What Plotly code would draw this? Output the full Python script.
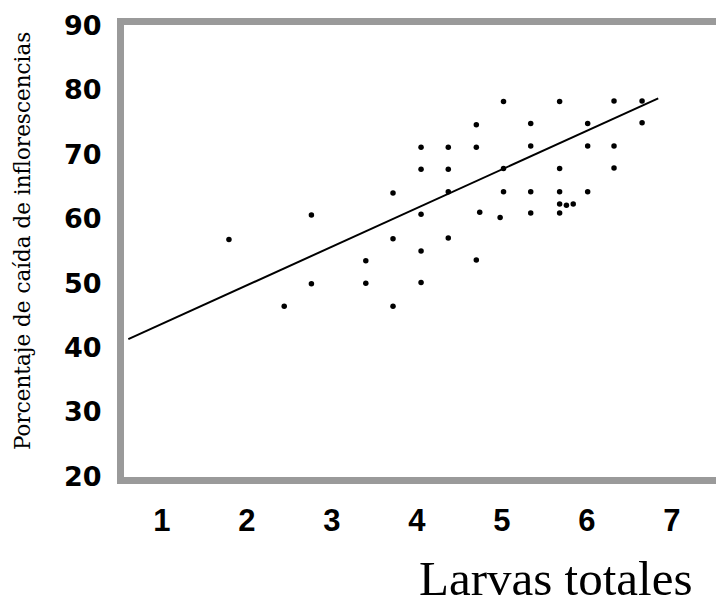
import plotly.graph_objects as go

# Scatter data: larvae (x) vs % inflorescence drop (y)
larvas = [1.79, 2.44, 2.76, 2.76, 3.40, 3.40, 3.72, 3.72, 3.72,
          4.05, 4.05, 4.05, 4.05, 4.05,
          4.37, 4.37, 4.37, 4.37,
          4.70, 4.70, 4.74, 4.70,
          5.02, 5.02, 5.02, 4.98,
          5.34, 5.34, 5.34, 5.34,
          5.68, 5.68, 5.68, 5.68, 5.76, 5.84, 5.68,
          6.01, 6.01, 6.01,
          6.32, 6.32, 6.32,
          6.65, 6.65]
caida = [56.8, 46.4, 60.6, 49.9, 53.5, 50.0, 64.0, 56.9, 46.4,
         71.1, 67.7, 60.7, 55.0, 50.1,
         71.1, 67.7, 64.2, 57.0,
         74.6, 71.1, 61.0, 53.6,
         78.2, 67.8, 64.2, 60.2,
         74.8, 71.3, 64.2, 60.9,
         78.2, 67.8, 64.2, 62.3, 62.1, 62.3, 60.9,
         74.8, 71.3, 64.2,
         78.3, 71.3, 67.9,
         78.3, 74.9]

# Fitted regression line end points
fit_x = [0.606, 6.84]
fit_y = [41.3, 78.7]

x_ticks = [1, 2, 3, 4, 5, 6, 7]
y_ticks = [20, 30, 40, 50, 60, 70, 80, 90]

x_title = "Larvas totales"
y_title = "Porcentaje de caída de inflorescencias"

fig = go.Figure()
fig.add_trace(go.Scatter(x=fit_x, y=fit_y, mode="lines",
                         line=dict(color="black", width=2), hoverinfo="skip"))
fig.add_trace(go.Scatter(x=larvas, y=caida, mode="markers",
                         marker=dict(color="black", size=5.5, symbol="circle")))

frame = "#9a9a9a"
# the frame runs past the right edge of the 716 px window, as in the reference
fig.update_layout(
    width=740, height=603,
    margin=dict(l=124, r=0, t=25, b=126),
    paper_bgcolor="white", plot_bgcolor="white",
    showlegend=False,
    xaxis=dict(range=[0.5553, 7.802], tickvals=x_ticks, ticktext=[str(v) for v in x_ticks],
               showgrid=False, zeroline=False, showline=True, linecolor=frame,
               linewidth=7, mirror=True, ticks="",
               tickfont=dict(family="Liberation Sans", size=31, color="black", weight="bold"),
               ticklabelstandoff=10),
    yaxis=dict(range=[19.9, 90.1], tickvals=y_ticks, ticktext=[str(v) for v in y_ticks],
               showgrid=False, zeroline=False, showline=True, linecolor=frame,
               linewidth=7, mirror=False, ticks="",
               tickfont=dict(family="DejaVu Sans", size=27, color="black", weight="bold"),
               ticklabelstandoff=10),
    annotations=[
        dict(text=x_title, xref="paper", yref="paper", x=(555 - 124) / 616, y=-0.2235,
             xanchor="center", yanchor="middle", showarrow=False,
             font=dict(family="Liberation Serif", size=49, color="black")),
        dict(text=y_title, xref="paper", yref="paper", x=(22 - 124) / 616, y=0.522,
             xanchor="center", yanchor="middle", showarrow=False, textangle=-90,
             font=dict(family="DejaVu Serif", size=21.5, color="black")),
    ],
)

fig.write_html("out.html", config={"displayModeBar": False},
               post_script="document.body.style.margin='0';document.body.style.overflow='hidden';")
